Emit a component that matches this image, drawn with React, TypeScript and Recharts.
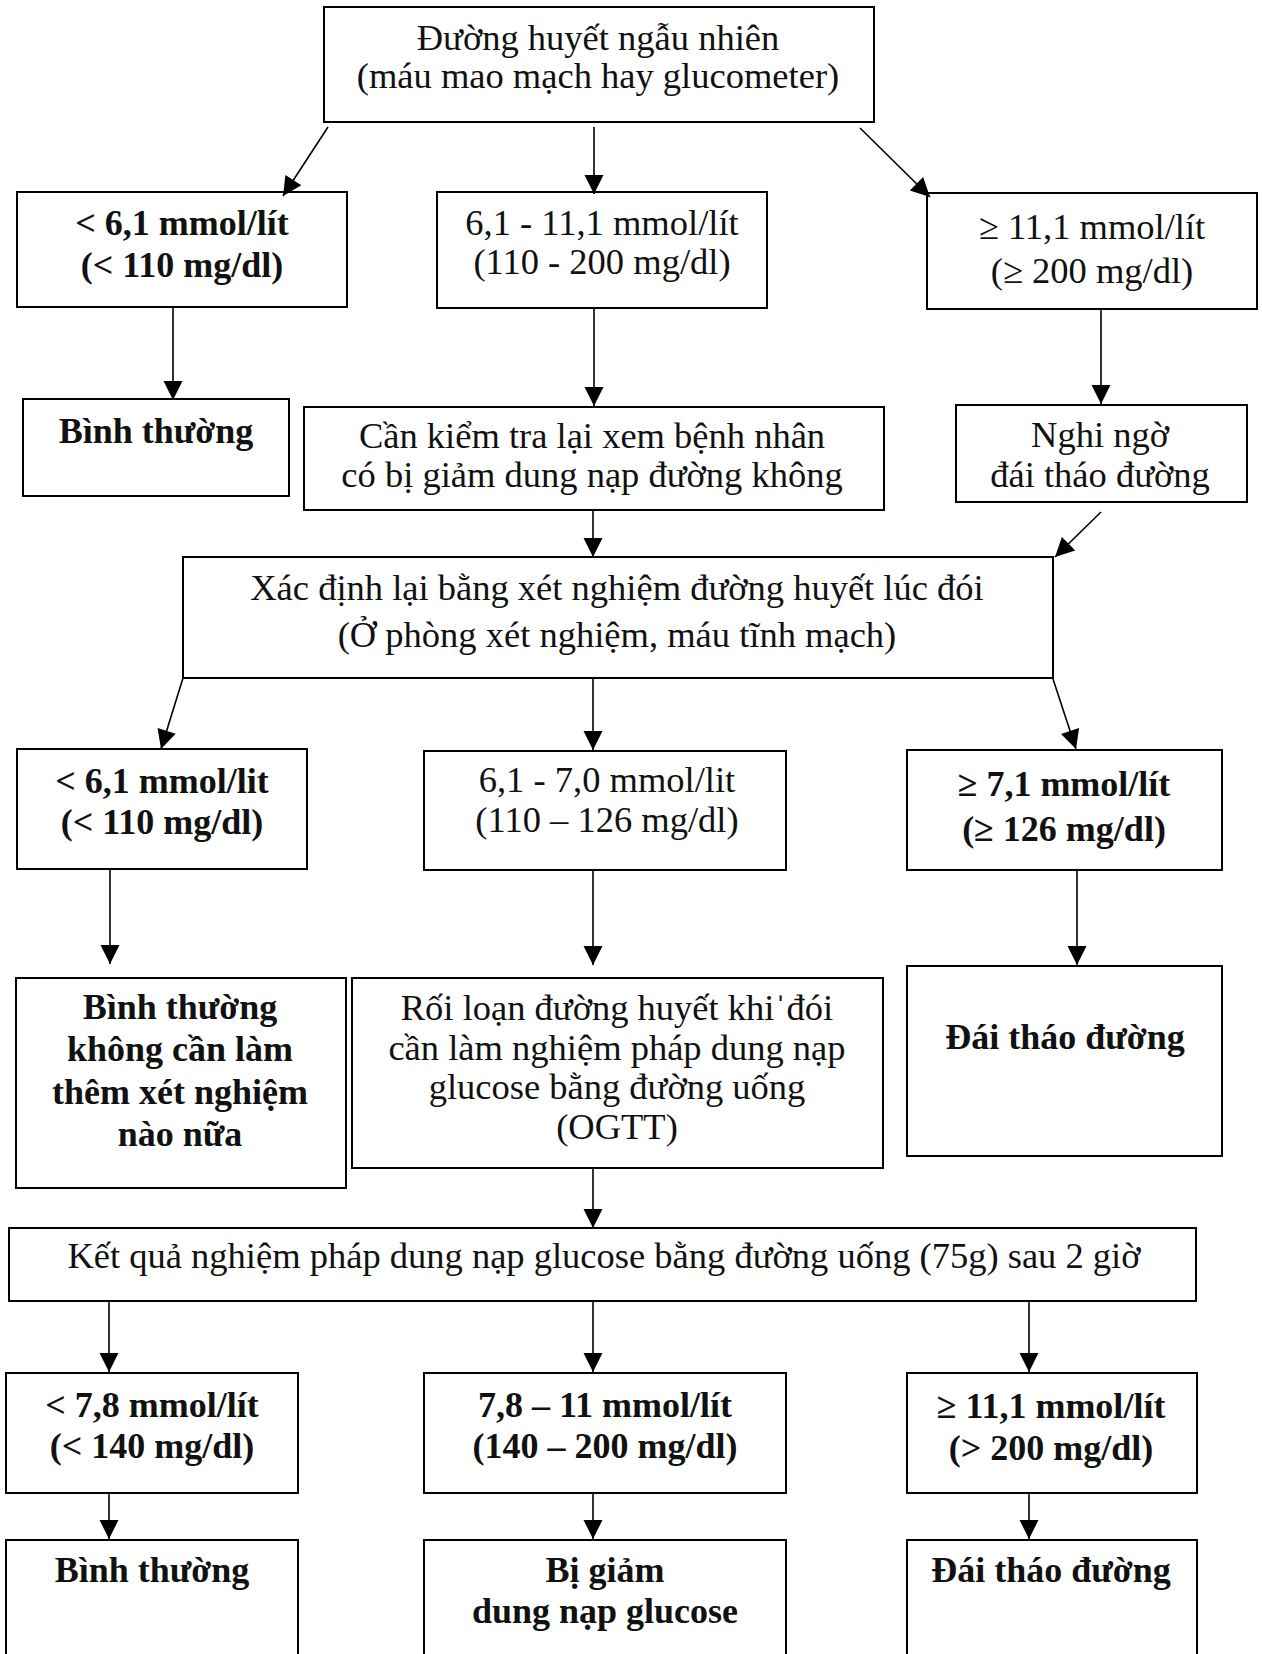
import React from 'react'
import { ReferenceArea, ReferenceLine, Scatter, ScatterChart, XAxis, YAxis } from 'recharts'

const W = 1262
const H = 1654
const FONT = "'Liberation Serif', 'Times New Roman', serif"

// boxes of the flowchart, in page pixels (y grows downward)
const boxes = [
  { id: 'top', x1: 324, x2: 874, y1: 7, y2: 122 },
  { id: 'a1', x1: 17, x2: 347, y1: 192, y2: 307 },
  { id: 'b1', x1: 437, x2: 767, y1: 192, y2: 308 },
  { id: 'c1', x1: 927, x2: 1257, y1: 193, y2: 309 },
  { id: 'a2', x1: 23, x2: 289, y1: 399, y2: 496 },
  { id: 'b2', x1: 304, x2: 884, y1: 407, y2: 510 },
  { id: 'c2', x1: 956, x2: 1247, y1: 405, y2: 502 },
  { id: 'fast', x1: 183, x2: 1053, y1: 557, y2: 678 },
  { id: 'a4', x1: 17, x2: 307, y1: 749, y2: 869 },
  { id: 'b4', x1: 424, x2: 786, y1: 751, y2: 870 },
  { id: 'c4', x1: 907, x2: 1222, y1: 750, y2: 870 },
  { id: 'a5', x1: 16, x2: 346, y1: 978, y2: 1188 },
  { id: 'b5', x1: 352, x2: 883, y1: 978, y2: 1168 },
  { id: 'c5', x1: 907, x2: 1222, y1: 966, y2: 1156 },
  { id: 'ogtt', x1: 9, x2: 1196, y1: 1228, y2: 1301 },
  { id: 'a7', x1: 6, x2: 298, y1: 1373, y2: 1493 },
  { id: 'b7', x1: 424, x2: 786, y1: 1373, y2: 1493 },
  { id: 'c7', x1: 907, x2: 1197, y1: 1373, y2: 1493 },
  { id: 'a8', x1: 6, x2: 298, y1: 1540, y2: 1680 },
  { id: 'b8', x1: 424, x2: 786, y1: 1540, y2: 1680 },
  { id: 'c8', x1: 907, x2: 1197, y1: 1540, y2: 1680 },
]

const boldBoxes = ['a1', 'a2', 'a4', 'c4', 'a5', 'c5', 'a7', 'b7', 'c7', 'a8', 'b8', 'c8']

// arrows: start -> tip
const arrows = [
  { x1: 328, y1: 127, x2: 283, y2: 196 },
  { x1: 594, y1: 127, x2: 594, y2: 194 },
  { x1: 860, y1: 128, x2: 930, y2: 197 },
  { x1: 173, y1: 307, x2: 173, y2: 400 },
  { x1: 594, y1: 308, x2: 594, y2: 406 },
  { x1: 1101, y1: 309, x2: 1101, y2: 404 },
  { x1: 593, y1: 510, x2: 593, y2: 557 },
  { x1: 1101, y1: 512, x2: 1055, y2: 557 },
  { x1: 183, y1: 678, x2: 161, y2: 749 },
  { x1: 593, y1: 678, x2: 593, y2: 750 },
  { x1: 1053, y1: 679, x2: 1076, y2: 749 },
  { x1: 110, y1: 869, x2: 110, y2: 964 },
  { x1: 593, y1: 870, x2: 593, y2: 965 },
  { x1: 1077, y1: 870, x2: 1077, y2: 965 },
  { x1: 593, y1: 1168, x2: 593, y2: 1228 },
  { x1: 109, y1: 1301, x2: 109, y2: 1372 },
  { x1: 593, y1: 1301, x2: 593, y2: 1372 },
  { x1: 1029, y1: 1301, x2: 1029, y2: 1372 },
  { x1: 109, y1: 1493, x2: 109, y2: 1539 },
  { x1: 593, y1: 1493, x2: 593, y2: 1539 },
  { x1: 1029, y1: 1493, x2: 1029, y2: 1539 },
]

// text lines: box, centre x, baseline y, text
const labels = [
  { box: 'top', x: 598, y: 50, text: 'Đường huyết ngẫu nhiên' },
  { box: 'top', x: 598, y: 88, text: '(máu mao mạch hay glucometer)' },
  { box: 'a1', x: 182, y: 235, text: '< 6,1 mmol/lít' },
  { box: 'a1', x: 182, y: 277, text: '(< 110 mg/dl)' },
  { box: 'b1', x: 602, y: 235, text: '6,1 - 11,1 mmol/lít' },
  { box: 'b1', x: 602, y: 274, text: '(110 - 200 mg/dl)' },
  { box: 'c1', x: 1092, y: 239, text: '≥ 11,1 mmol/lít' },
  { box: 'c1', x: 1092, y: 283, text: '(≥ 200 mg/dl)' },
  { box: 'a2', x: 156, y: 443, text: 'Bình thường' },
  { box: 'b2', x: 592, y: 448, text: 'Cần kiểm tra lại xem bệnh nhân' },
  { box: 'b2', x: 592, y: 487, text: 'có bị giảm dung nạp đường không' },
  { box: 'c2', x: 1100, y: 447, text: 'Nghi ngờ' },
  { box: 'c2', x: 1100, y: 487, text: 'đái tháo đường' },
  { box: 'fast', x: 617, y: 600, text: 'Xác định lại bằng xét nghiệm đường huyết lúc đói' },
  { box: 'fast', x: 617, y: 647, text: '(Ở phòng xét nghiệm, máu tĩnh mạch)' },
  { box: 'a4', x: 162, y: 793, text: '< 6,1 mmol/lit' },
  { box: 'a4', x: 162, y: 834, text: '(< 110 mg/dl)' },
  { box: 'b4', x: 607, y: 792, text: '6,1 - 7,0 mmol/lit' },
  { box: 'b4', x: 607, y: 832, text: '(110 – 126 mg/dl)' },
  { box: 'c4', x: 1064, y: 796, text: '≥ 7,1 mmol/lít' },
  { box: 'c4', x: 1064, y: 841, text: '(≥ 126 mg/dl)' },
  { box: 'a5', x: 180, y: 1019, text: 'Bình thường' },
  { box: 'a5', x: 180, y: 1061, text: 'không cần làm' },
  { box: 'a5', x: 180, y: 1104, text: 'thêm xét nghiệm' },
  { box: 'a5', x: 180, y: 1146, text: 'nào nữa' },
  { box: 'b5', x: 617, y: 1020, text: 'Rối loạn đường huyết khiˈđói' },
  { box: 'b5', x: 617, y: 1060, text: 'cần làm nghiệm pháp dung nạp' },
  { box: 'b5', x: 617, y: 1099, text: 'glucose bằng đường uống' },
  { box: 'b5', x: 617, y: 1139, text: '(OGTT)' },
  { box: 'c5', x: 1065, y: 1049, text: 'Đái tháo đường' },
  { box: 'ogtt', x: 604, y: 1268, text: 'Kết quả nghiệm pháp dung nạp glucose bằng đường uống (75g) sau 2 giờ' },
  { box: 'a7', x: 152, y: 1417, text: '< 7,8 mmol/lít' },
  { box: 'a7', x: 152, y: 1458, text: '(< 140 mg/dl)' },
  { box: 'b7', x: 605, y: 1417, text: '7,8 – 11 mmol/lít' },
  { box: 'b7', x: 605, y: 1458, text: '(140 – 200 mg/dl)' },
  { box: 'c7', x: 1051, y: 1418, text: '≥ 11,1 mmol/lít' },
  { box: 'c7', x: 1051, y: 1460, text: '(> 200 mg/dl)' },
  { box: 'a8', x: 152, y: 1582, text: 'Bình thường' },
  { box: 'b8', x: 605, y: 1582, text: 'Bị giảm' },
  { box: 'b8', x: 605, y: 1623, text: 'dung nạp glucose' },
  { box: 'c8', x: 1051, y: 1582, text: 'Đái tháo đường' },
]

const heads = arrows.map((a) => ({ x: a.x2, y: a.y2, dx: a.x2 - a.x1, dy: a.y2 - a.y1 }))

function ArrowHead(props: any) {
  const { cx, cy, payload } = props
  if (cx == null || cy == null) return null
  const len = Math.hypot(payload.dx, payload.dy) || 1
  const ux = payload.dx / len
  const uy = payload.dy / len
  const L = 19
  const hw = 9.5
  const bx = cx - ux * L
  const by = cy - uy * L
  const pts = [
    [cx, cy],
    [bx - uy * hw, by + ux * hw],
    [bx + uy * hw, by - ux * hw],
  ]
  return <polygon points={pts.map((p) => p.join(',')).join(' ')} fill="#000" />
}

function LabelText(props: any) {
  const { cx, cy, payload } = props
  if (cx == null || cy == null) return null
  const bold = boldBoxes.includes(payload.box)
  return (
    <text
      x={cx}
      y={cy}
      textAnchor="middle"
      fontFamily={FONT}
      fontSize={bold ? 36 : 36.5}
      fontWeight={bold ? 700 : 400}
      fill="#111"
    >
      {payload.text}
    </text>
  )
}

export default function App() {
  return (
    <div style={{ position: 'absolute', left: 0, top: 0, width: W, height: H, background: '#fff' }}>
      <ScatterChart width={W} height={H} margin={{ top: 0, right: 0, bottom: 0, left: 0 }}>
        <XAxis type="number" dataKey="x" domain={[0, W]} allowDataOverflow hide />
        <YAxis type="number" dataKey="y" domain={[0, H]} allowDataOverflow reversed hide />
        {boxes.map((b) => (
          <ReferenceArea
            key={b.id}
            x1={b.x1}
            x2={b.x2}
            y1={b.y1}
            y2={b.y2}
            fill="#fff"
            fillOpacity={1}
            stroke="#000"
            strokeWidth={2}
            ifOverflow="visible"
          />
        ))}
        {arrows.map((a, i) => (
          <ReferenceLine
            key={i}
            segment={[
              { x: a.x1, y: a.y1 },
              { x: a.x2, y: a.y2 },
            ]}
            stroke="#000"
            strokeWidth={1.6}
            ifOverflow="visible"
          />
        ))}
        <Scatter data={heads} shape={ArrowHead} isAnimationActive={false} />
        <Scatter data={labels} shape={LabelText} isAnimationActive={false} />
      </ScatterChart>
    </div>
  )
}
